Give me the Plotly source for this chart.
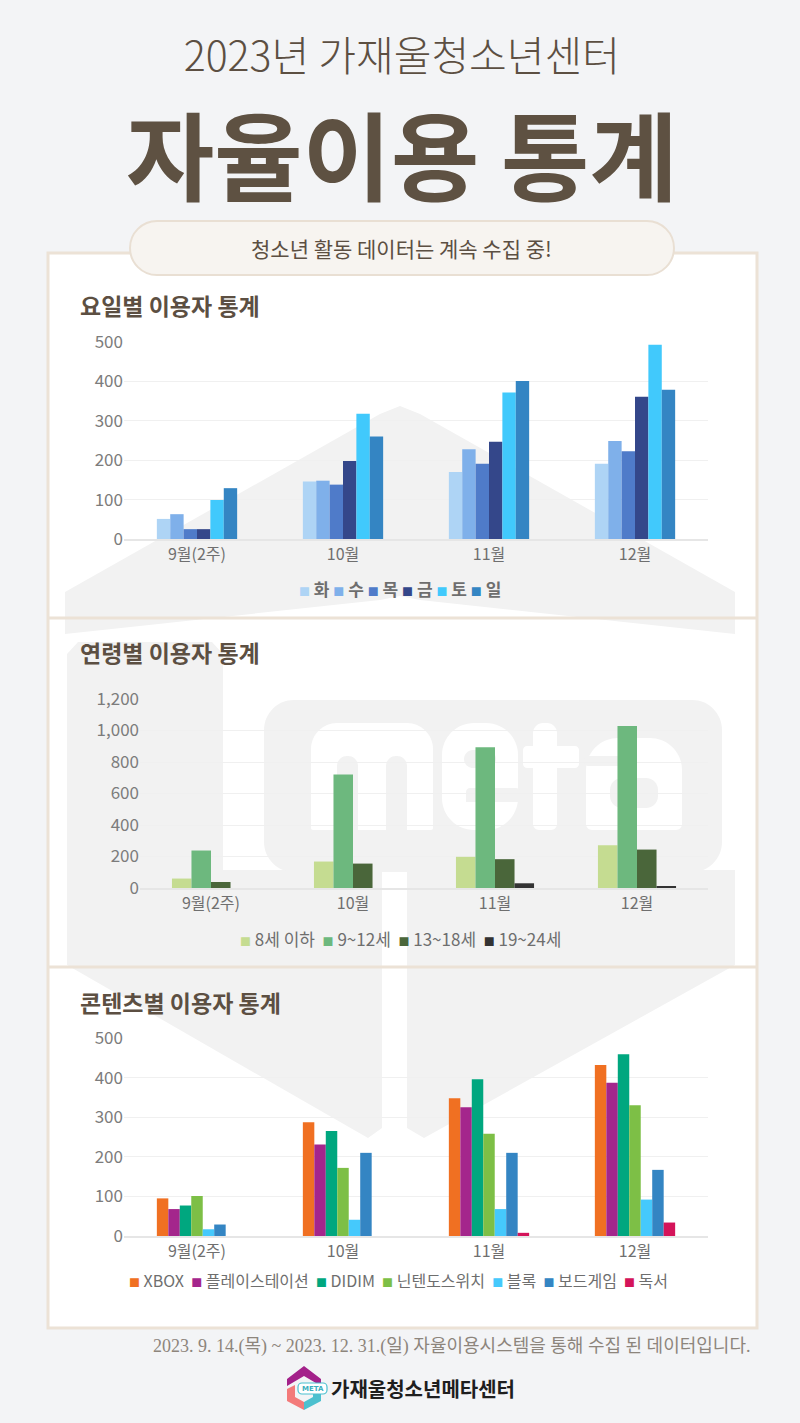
import plotly.graph_objects as go

W, H = 800, 1423
FONT = "Noto Sans CJK KR"
BROWN = "#5c4f42"

# ---------------- data ----------------
months = ["9월(2주)", "10월", "11월", "12월"]

# 요일별 이용자 통계
day_names = ["화", "수", "목", "금", "토", "일"]
day_colors = ["#aed4f5", "#7fb0ea", "#4f7bc9", "#34478a", "#41c9fc", "#3485c3"]
day_tue = [51, 146, 170, 191]
day_wed = [63, 148, 228, 249]
day_thu = [25, 138, 191, 223]
day_fri = [25, 198, 247, 361]
day_sat = [99, 318, 372, 493]
day_sun = [129, 260, 401, 379]
day_values = [day_tue, day_wed, day_thu, day_fri, day_sat, day_sun]

# 연령별 이용자 통계
age_names = ["8세 이하", "9~12세", "13~18세", "19~24세"]
age_colors = ["#c5dc91", "#6db87e", "#4a663a", "#333333"]
age_u8 = [60, 168, 198, 272]
age_9_12 = [238, 720, 894, 1028]
age_13_18 = [38, 155, 183, 244]
age_19_24 = [0, 0, 30, 10]
age_values = [age_u8, age_9_12, age_13_18, age_19_24]

# 콘텐츠별 이용자 통계
content_names = ["XBOX", "플레이스테이션", "DIDIM", "닌텐도스위치", "블록", "보드게임", "독서"]
content_colors = ["#f07022", "#a4268c", "#00a77f", "#7dbf46", "#45c9fc", "#3485c3", "#d4145a"]
c_xbox = [95, 287, 348, 432]
c_ps = [68, 231, 325, 387]
c_didim = [77, 265, 396, 459]
c_switch = [101, 172, 258, 330]
c_block = [17, 41, 68, 92]
c_board = [29, 210, 210, 167]
c_book = [0, 0, 8, 34]
content_values = [c_xbox, c_ps, c_didim, c_switch, c_block, c_board, c_book]

# ---------------- helpers (pixel -> paper) ----------------
def px(x):
    return x / W

def py(y):
    return 1 - y / H

def fmt(x, y):
    return f"{px(x):.5f},{py(y):.5f}"

def poly(points):
    s = "M " + fmt(*points[0])
    for p in points[1:]:
        s += " L " + fmt(*p)
    return s + " Z"

def rrect(x0, y0, x1, y1, r, rb=None):
    rb = r if rb is None else rb
    k = 0.5523 * r
    kb = 0.5523 * rb
    return (
        f"M {fmt(x0 + r, y0)} L {fmt(x1 - r, y0)} "
        f"C {fmt(x1 - r + k, y0)} {fmt(x1, y0 + r - k)} {fmt(x1, y0 + r)} "
        f"L {fmt(x1, y1 - rb)} "
        f"C {fmt(x1, y1 - rb + kb)} {fmt(x1 - rb + kb, y1)} {fmt(x1 - rb, y1)} "
        f"L {fmt(x0 + rb, y1)} "
        f"C {fmt(x0 + rb - kb, y1)} {fmt(x0, y1 - rb + kb)} {fmt(x0, y1 - rb)} "
        f"L {fmt(x0, y0 + r)} "
        f"C {fmt(x0, y0 + r - k)} {fmt(x0 + r - k, y0)} {fmt(x0 + r, y0)} Z"
    )

def path_shape(path, fill, line=None, lw=0, layer="below"):
    return dict(type="path", xref="paper", yref="paper", path=path,
                fillcolor=fill, line=dict(color=line or fill, width=lw), layer=layer)

def line_shape(x0, y0, x1, y1, color, width):
    return dict(type="line", xref="paper", yref="paper", x0=px(x0), y0=py(y0),
                x1=px(x1), y1=py(y1), line=dict(color=color, width=width), layer="below")

def text_ann(text, x, y, size, color, xanchor="center", weight="normal", family=FONT):
    return dict(text=text, x=px(x), y=py(y), xref="paper", yref="paper",
                xanchor=xanchor, yanchor="middle", showarrow=False,
                font=dict(size=size, color=color, family=family, weight=weight))

def legend_text(names, colors, sq=11, gap=2):
    nb = "\u00a0"
    return (nb * gap).join(
        f"<span style='color:{c};font-size:{sq}px'>■</span>{nb}{n}" for n, c in zip(names, colors)
    )

# ---------------- figure ----------------
fig = go.Figure()

charts = [
    ("", day_names, day_colors, day_values),
    ("2", age_names, age_colors, age_values),
    ("3", content_names, content_colors, content_values),
]
for suffix, names, colors, values in charts:
    for n, c, v in zip(names, colors, values):
        fig.add_trace(go.Bar(
            x=months, y=v, name=n, marker=dict(color=c, line=dict(width=0)),
            xaxis="x" + suffix, yaxis="y" + suffix, showlegend=False,
            hovertemplate="%{x}<br>" + n + ": %{y}<extra></extra>",
        ))

# axis domains in pixels
domains = {
    "": ((124, 708), (342, 539), 500, 100),
    "2": ((140, 708), (699, 888), 1200, 200),
    "3": ((124, 708), (1038, 1236), 500, 100),
}
layout_axes = {}
for suffix, ((xa, xb), (ya, yb), ymax, dt) in domains.items():
    layout_axes["xaxis" + suffix] = dict(
        domain=[px(xa), px(xb)], anchor="y" + suffix, showgrid=False, automargin=False,
        showline=True, linecolor="#e6e6e6", linewidth=2, ticks="",
        tickfont=dict(size=16, color="#6f6f6f", family=FONT), fixedrange=True,
    )
    layout_axes["yaxis" + suffix] = dict(
        domain=[py(yb), py(ya)], anchor="x" + suffix, range=[0, ymax], dtick=dt,
        tickformat=",", showgrid=True, gridcolor="#f0f0f0", gridwidth=1, automargin=False,
        zeroline=False, showline=False, ticks="",
        tickfont=dict(size=17, color="#7c7c7c", family=FONT), fixedrange=True,
    )

WM = "#f2f2f2"
WH = "#ffffff"
shapes = [
    # white panel
    dict(type="rect", xref="paper", yref="paper", x0=px(48), y0=py(1328), x1=px(757), y1=py(253),
         fillcolor="#ffffff", line=dict(color="#ece2d6", width=3), layer="below"),
    # watermark: roof
    path_shape(poly([(65, 592), (380, 414), (400, 406), (420, 414), (735, 592), (735, 634),
                     (420, 600), (400, 596), (380, 600), (65, 634)]), WM),
    # watermark: left piece
    path_shape(poly([(67, 654), (78, 642), (212, 642), (223, 654), (223, 870), (382, 870),
                     (382, 1128), (368, 1138), (67, 965)]), WM),
    # watermark: band
    path_shape(rrect(264, 700, 722, 872, 30), WM),
    # watermark: right piece
    path_shape(poly([(407, 870), (735, 870), (735, 965), (424, 1138), (407, 1128)]), WM),
    # watermark letters "meta" (white on grey)
    path_shape(rrect(311, 723, 433, 830, 26, 2), WH),
    path_shape(rrect(337, 756, 358, 834, 10, 0), WM),
    path_shape(rrect(386, 756, 407, 834, 10, 0), WM),
    path_shape(rrect(442, 723, 518, 830, 32), WH),
    path_shape(rrect(464, 750, 496, 768, 9), WM),
    path_shape(rrect(466, 788, 520, 802, 4, 0), WM),
    path_shape(rrect(533, 723, 557, 830, 10, 6), WH),
    path_shape(rrect(523, 746, 579, 768, 4), WH),
    path_shape(rrect(586, 738, 682, 830, 32, 6), WH),
    path_shape(rrect(610, 778, 658, 808, 12), WM),
    path_shape(rrect(584, 756, 632, 766, 4, 4), WM),
    # dividers
    line_shape(48, 618, 757, 618, "#ece2d6", 3),
    line_shape(48, 967, 757, 967, "#ece2d6", 3),
    # pill
    path_shape(rrect(130, 221, 674, 275, 27), "#f7f4f0", "#e9dfd3", 2),
    # bottom logo
    path_shape(poly([(287, 1379), (304, 1366), (321, 1379), (321, 1386), (304, 1376), (287, 1386)]), "#a3218a"),
    path_shape(poly([(287, 1389), (295, 1385), (295, 1397), (304, 1402), (304, 1410), (287, 1401)]), "#f37a7a"),
    path_shape(poly([(321, 1389), (321, 1401), (304, 1410), (304, 1402), (313, 1397), (313, 1392)]), "#4cc0cf"),
    path_shape(rrect(298, 1383, 327, 1394, 4), "#ffffff", "#4cc0cf", 1.2),
]

title_text = (
    "<span style='font-size:41px;font-weight:300'>2023년 가재울청소년센터</span><br>"
    "<span style='font-size:96px;font-weight:bold;color:#5e5142'>자율이용 통계</span>"
)

annotations = [
    dict(text=title_text, x=px(402), y=py(122), xref="paper", yref="paper",
         xanchor="center", yanchor="middle", showarrow=False, align="center",
         font=dict(size=94, color=BROWN, family=FONT)),
    text_ann("청소년 활동 데이터는 계속 수집 중!", 402, 248, 21, BROWN),
    text_ann("요일별 이용자 통계", 78, 305, 23, BROWN, xanchor="left", weight="bold"),
    text_ann("연령별 이용자 통계", 78, 652, 23, BROWN, xanchor="left", weight="bold"),
    text_ann("콘텐츠별 이용자 통계", 78, 1002, 23, BROWN, xanchor="left", weight="bold"),
    text_ann(legend_text(day_names, day_colors, gap=1), 400, 588, 17, "#6e6e6e", weight="bold"),
    text_ann(legend_text(age_names, age_colors), 400, 938, 17, "#6e6e6e"),
    text_ann(legend_text(content_names, content_colors), 398, 1280, 16, "#6e6e6e"),
    text_ann("2023. 9. 14.(목) ~ 2023. 12. 31.(일) 자율이용시스템을 통해 수집 된 데이터입니다.",
             752, 1346, 18, "#8d857c", xanchor="right", family="Liberation Serif, " + FONT),
    text_ann("가재울청소년메타센터", 329, 1388, 20, "#1e1e1e", xanchor="left", weight="bold"),
    text_ann("META", 312.5, 1388.5, 7, "#3aaebe", weight="bold", family="DejaVu Sans"),
]

fig.update_layout(
    width=W, height=H, margin=dict(l=0, r=0, t=0, b=0, autoexpand=False),
    paper_bgcolor="#f3f4f6", plot_bgcolor="rgba(0,0,0,0)",
    font=dict(family=FONT, color="#6f6f6f"),
    barmode="group", bargap=0.45, bargroupgap=0,
    showlegend=False, shapes=shapes, annotations=annotations,
    **layout_axes,
)

fig.write_html(
    "out.html",
    config={"displayModeBar": False},
    post_script="document.body.style.margin='0';document.body.style.background='#f3f4f6';",
)
